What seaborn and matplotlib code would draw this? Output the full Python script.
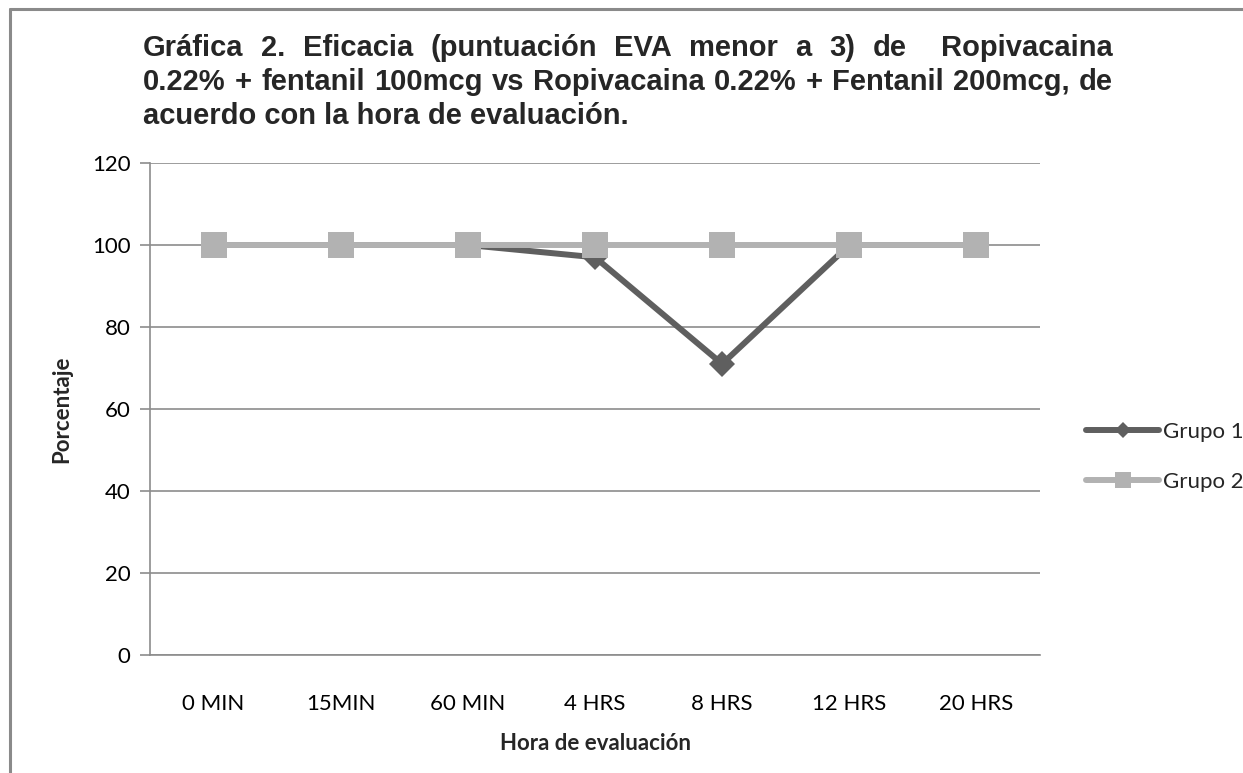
import numpy as np
import pandas as pd
import seaborn as sns
import matplotlib.pyplot as plt
from matplotlib.lines import Line2D

horas = ['0 MIN', '15MIN', '60 MIN', '4 HRS', '8 HRS', '12 HRS', '20 HRS']
grupo1 = [100, 100, 100, 97, 71, 100, 100]
grupo2 = [100, 100, 100, 100, 100, 100, 100]
yticks = [0, 20, 40, 60, 80, 100, 120]

titulo = ['Gráfica 2. Eficacia (puntuación EVA menor a 3) de  Ropivacaina',
          '0.22% + fentanil 100mcg vs Ropivacaina 0.22% + Fentanil 200mcg, de',
          'acuerdo con la hora de evaluación.']

df = pd.DataFrame({'Hora': horas * 2,
                   'Porcentaje': grupo1 + grupo2,
                   'Grupo': ['Grupo 1'] * 7 + ['Grupo 2'] * 7})

sns.set_theme(style='white')
plt.rcParams['font.family'] = ['Lato', 'DejaVu Sans']

W, H = 1243, 773
fs = 16
fig = plt.figure(figsize=(W / 100, H / 100), dpi=100)
ax = fig.add_axes([150 / W, 1 - 655 / H, 890 / W, 492 / H])

sns.lineplot(data=df, x='Hora', y='Porcentaje', hue='Grupo', style='Grupo',
             markers={'Grupo 1': 'D', 'Grupo 2': 's'}, dashes=False,
             palette={'Grupo 1': '#5f5f5f', 'Grupo 2': '#b2b2b2'},
             linewidth=4.3, markeredgewidth=0, sort=False, ax=ax)

for line, ms in zip(ax.lines[:2], [13.5, 19]):
    line.set_markersize(ms)
    line.set_solid_joinstyle('miter')

ax.set_xlim(-0.5, 6.5)
ax.set_ylim(0, 120)
ax.set_yticks(yticks)
ax.yaxis.grid(True, color='#8c8c8c', linewidth=1.2)
ax.set_axisbelow(True)
for s in ['top', 'right']:
    ax.spines[s].set_visible(False)
for s in ['left', 'bottom']:
    ax.spines[s].set_color('#8c8c8c')
    ax.spines[s].set_linewidth(1.2)
ax.tick_params(axis='y', left=True, length=7, width=1.2, color='#8c8c8c', labelsize=fs, pad=7, labelcolor='black')
ax.tick_params(axis='x', bottom=False, labelsize=fs, pad=22, labelcolor='black')
ax.set_xlabel('Hora de evaluación', fontsize=fs, fontweight='bold', labelpad=14)
ax.set_ylabel('Porcentaje', fontsize=fs, fontweight='bold', labelpad=14)

handles, labels = ax.get_legend_handles_labels()
leg = ax.legend(handles, labels, loc='center left', bbox_to_anchor=(1066 / W, 1 - 457 / H),
                bbox_transform=fig.transFigure, frameon=False, fontsize=fs,
                handlelength=3.3, handletextpad=0.15, labelspacing=1.35)
for lh, ms in zip(leg.get_lines(), [8, 12]):
    lh.set_markersize(ms)
    lh.set_solid_capstyle('round')

# page frame
fig.add_artist(Line2D([10 / W, 1], [1 - 9 / H, 1 - 9 / H], transform=fig.transFigure, color='#8a8a8a', lw=2.2))
fig.add_artist(Line2D([10.5 / W, 10.5 / W], [0, 1 - 9 / H], transform=fig.transFigure, color='#8a8a8a', lw=2.2))

# justified title
renderer = fig.canvas.get_renderer()
x0, x1 = 143, 1113
tfont = dict(fontweight='bold', family=['Liberation Sans', 'DejaVu Sans'], va='baseline', ha='left')
probe = fig.text(0, 0, titulo[1], fontsize=18, **tfont)
tsize = min(21, 18 * (x1 - x0 - 8) / probe.get_window_extent(renderer).width)
probe.remove()
tfont['fontsize'] = tsize
for i, (txt, y) in enumerate(zip(titulo, [56, 90, 124])):
    if i == len(titulo) - 1:
        fig.text(x0 / W, 1 - y / H, txt, **tfont)
        continue
    words = txt.split(' ')
    arts = [fig.text(0, 1 - y / H, w_, **tfont) for w_ in words]
    widths = [a.get_window_extent(renderer).width if w_ else 0 for a, w_ in zip(arts, words)]
    gap = (x1 - x0 - sum(widths)) / (len(words) - 1)
    x = x0
    for a, w_ in zip(arts, widths):
        a.set_x(x / W)
        x += w_ + gap

fig.savefig('out.png', dpi=100)
